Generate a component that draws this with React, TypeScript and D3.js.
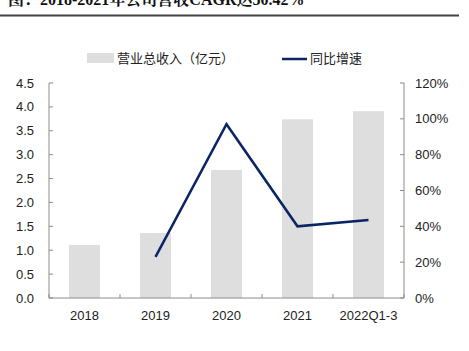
import React from "react";
import * as d3 from "d3";

const categories = ["2018", "2019", "2020", "2021", "2022Q1-3"];
const revenue = [1.11, 1.36, 2.68, 3.74, 3.91];
const growth: (number | null)[] = [null, 23, 97, 40, 43.5];
const leftTicks = [0, 0.5, 1, 1.5, 2, 2.5, 3, 3.5, 4, 4.5];
const rightTicks = [0, 20, 40, 60, 80, 100, 120];
const titleText = "图：2018-2021年公司营收CAGR达50.42%";
const legendBar = "营业总收入（亿元）";
const legendLine = "同比增速";

const W = 469, H = 351;
const left = 49, right = 404, top = 83, bottom = 298;
const axisColor = "#8c8c8c";
const font = "'Liberation Sans', Arial, 'Noto Sans CJK SC', sans-serif";

export default function App() {
  const x = d3.scaleBand<string>().domain(categories).range([left, right]).paddingInner(0.56).paddingOuter(0.28);
  const band = d3.scaleBand<string>().domain(categories).range([left, right]);
  const yL = d3.scaleLinear().domain([0, 4.5]).range([bottom, top]);
  const yR = d3.scaleLinear().domain([0, 120]).range([bottom, top]);
  const pts = categories.map((c, i) => ({ c, v: growth[i] })).filter((d) => d.v !== null) as { c: string; v: number }[];
  const line = d3.line<{ c: string; v: number }>()
    .x((d) => (band(d.c) as number) + band.bandwidth() / 2)
    .y((d) => yR(d.v));
  const boundaries = categories.map((c) => band(c) as number).concat([right]);

  return (
    <svg width={W} height={H} style={{ position: "absolute", left: 0, top: 0, background: "#fff" }}>
      <text x={8} y={5} fontFamily="'Liberation Serif', 'Noto Serif CJK SC', serif" fontWeight="bold" fontSize={16} fill="#111">{titleText}</text>
      <line x1={0} x2={459} y1={15.5} y2={15.5} stroke="#444" strokeWidth={2} />

      {/* legend */}
      <rect x={87} y={53} width={27} height={10} fill="#dedede" />
      <text x={117} y={63} fontFamily={font} fontSize={13} fill="#222">{legendBar}</text>
      <line x1={282} x2={307} y1={59} y2={59} stroke="#0b2466" strokeWidth={2.5} />
      <text x={310} y={63} fontFamily={font} fontSize={13} fill="#222">{legendLine}</text>

      {/* bars */}
      {categories.map((c, i) => (
        <rect key={c} x={(band(c) as number) + band.bandwidth() / 2 - 15.5} width={31} y={yL(revenue[i])} height={bottom - yL(revenue[i])} fill="#dedede" />
      ))}

      {/* axes */}
      <line x1={left} x2={left} y1={top} y2={bottom} stroke={axisColor} />
      <line x1={right} x2={right} y1={top} y2={bottom} stroke={axisColor} />
      <line x1={left} x2={right} y1={bottom} y2={bottom} stroke={axisColor} />
      {leftTicks.map((t) => (
        <g key={"l" + t}>
          <line x1={left} x2={left + 4} y1={yL(t)} y2={yL(t)} stroke={axisColor} />
          <text x={34} y={yL(t)} dy="0.35em" textAnchor="end" fontFamily={font} fontSize={13} fill="#222">{t.toFixed(1)}</text>
        </g>
      ))}
      {rightTicks.map((t) => (
        <g key={"r" + t}>
          <line x1={right - 4} x2={right} y1={yR(t)} y2={yR(t)} stroke={axisColor} />
          <text x={415} y={yR(t)} dy="0.35em" textAnchor="start" fontFamily={font} fontSize={13} fill="#222">{t + "%"}</text>
        </g>
      ))}
      {boundaries.map((b, i) => (
        <line key={"b" + i} x1={b} x2={b} y1={bottom} y2={bottom - 4} stroke={axisColor} />
      ))}
      {categories.map((c) => (
        <text key={"x" + c} x={(band(c) as number) + band.bandwidth() / 2} y={315} dy="0.35em" textAnchor="middle" fontFamily={font} fontSize={13} fill="#222">{c}</text>
      ))}

      {/* line */}
      <path d={line(pts) || ""} fill="none" stroke="#0b2466" strokeWidth={2.5} strokeLinejoin="miter" />
    </svg>
  );
}
